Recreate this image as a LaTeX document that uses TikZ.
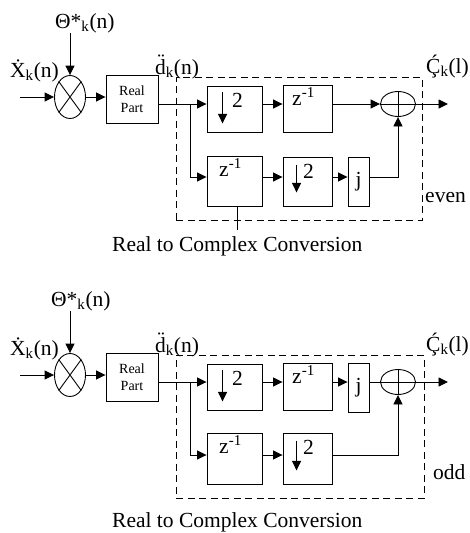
\documentclass[tikz,border=0pt]{standalone}
\usepackage{fontspec}
\setmainfont{Liberation Serif}
\usetikzlibrary{positioning,arrows.meta,shapes.geometric,calc}

\begin{document}
\begin{tikzpicture}[x=1pt,y=-1pt,
 ln/.style={line width=.9pt},
 a/.style={-{Triangle[length=9.5pt,width=9pt]},line width=.9pt},
 blk/.style={draw,line width=.9pt,inner sep=0pt},
 txt/.style={font=\fontsize{21.5}{25}\selectfont,inner sep=0pt},
 lbl/.style={txt,anchor=base west},
 sm/.style={font=\fontsize{14}{17}\selectfont,align=center},
 grp/.style={draw,dash pattern=on 7pt off 4.5pt,line width=.9pt,inner sep=0pt},
 mul/.style={ellipse,draw,line width=.9pt,inner sep=0pt,minimum width=31pt,minimum height=43pt},
 add/.style={ellipse,draw,line width=.9pt,inner sep=0pt,minimum width=35pt,minimum height=25pt},
 zl/.style={label={[txt,anchor=north,xshift=-4pt,yshift=-3pt]north:z\textsuperscript{-1}}}]
\useasboundingbox (0,0) rectangle (470,533);

% even branch
\node[lbl,anchor=south west] (th1) at (55,33) {Θ*\textsubscript{k}(n)};
\node[lbl] (x1) at (10,77) {Ẋ\textsubscript{k}(n)};
\node[mul] (m1) at (70,97) {};
\draw[ln] (m1.north west)--(m1.south east) (m1.north east)--(m1.south west);
\coordinate (in1) at (20,97);
\draw[a] (in1)--(m1);
\draw[a] (th1.south -| m1.north)--(m1.north);
\node[blk,sm,minimum width=52pt,minimum height=48pt] (re1) at (132,99) {Real\\Part};
\draw[a] (m1.east)--(m1.east -| re1.west);
\node[lbl] (d1) at (155,74) {d̈\textsubscript{k}(n)};
\node[grp,minimum width=246pt,minimum height=143pt] (cv1) at (299,148.5) {};
\coordinate (up1) at (0,104);
\coordinate (lo1) at (0,177);
\coordinate (br1) at (190,104);
\node[blk,minimum width=55pt,minimum height=46pt] (dA1) at (234.5,109) {};
\draw[a] ([xshift=16pt,yshift=-6pt]dA1.north west)--([xshift=16pt,yshift=9pt]dA1.south west);
\node[txt] at ([xshift=31pt,yshift=-15pt]dA1.north west) {2};
\node[blk,zl,minimum width=49pt,minimum height=47pt] (zA1) at (307.5,108.5) {};
\node[add] (s1) at (398,104) {};
\draw[ln] (s1.north)--(s1.south) (s1.west)--(s1.east);
\node[blk,zl,minimum width=55pt,minimum height=50pt] (zB1) at (234.5,181) {};
\node[blk,minimum width=49pt,minimum height=49pt] (dB1) at (307.5,181.5) {};
\draw[a] ([xshift=14pt,yshift=-8pt]dB1.north west)--([xshift=14pt,yshift=14pt]dB1.south west);
\node[txt] at ([xshift=26pt,yshift=-15pt]dB1.north west) {2};
\node[blk,txt,minimum width=21pt,minimum height=49pt] (j1) at (358.5,181.5) {j};
\draw[a] (re1.east |- up1)--(dA1.west |- up1);
\draw[a] (br1)|-(zB1.west |- lo1);
\draw[a] (dA1.east |- up1)--(zA1.west |- up1);
\draw[a] (zA1.east |- up1)--(s1.west);
\draw[a] (zB1.east |- lo1)--(dB1.west |- lo1);
\draw[a] (dB1.east |- lo1)--(j1.west |- lo1);
\draw[a] (j1.east |- lo1)-|(s1.south);
\coordinate (o1) at (448,104);
\draw[a] (s1.east)--(o1);
\node[lbl] (c1) at (426,73) {Ḉ\textsubscript{k}(l)};
\node[lbl] (ev) at (425,202) {even};
\draw[ln] ([xshift=3pt]zB1.south)--++(0,24);
\node[lbl] (rc1) at (112,251) {Real to Complex Conversion};

% odd branch
\begin{scope}[shift={(0,278)}]
\node[lbl,anchor=south west] (th2) at (51,33) {Θ*\textsubscript{k}(n)};
\node[lbl] (x2) at (10,77) {Ẋ\textsubscript{k}(n)};
\node[mul] (m2) at (70,97) {};
\draw[ln] (m2.north west)--(m2.south east) (m2.north east)--(m2.south west);
\coordinate (in2) at (20,97);
\draw[a] (in2)--(m2);
\draw[a] (th2.south -| m2.north)--(m2.north);
\node[blk,sm,minimum width=52pt,minimum height=48pt] (re2) at (132,99) {Real\\Part};
\draw[a] (m2.east)--(m2.east -| re2.west);
\node[lbl] (d2) at (155,74) {d̈\textsubscript{k}(n)};
\node[grp,minimum width=248pt,minimum height=143pt] (cv2) at (300,148.5) {};
\coordinate (up2) at (0,104);
\coordinate (lo2) at (0,177);
\coordinate (br2) at (190,104);
\node[blk,minimum width=55pt,minimum height=46pt] (dA2) at (234.5,109) {};
\draw[a] ([xshift=16pt,yshift=-6pt]dA2.north west)--([xshift=16pt,yshift=9pt]dA2.south west);
\node[txt] at ([xshift=31pt,yshift=-15pt]dA2.north west) {2};
\node[blk,zl,minimum width=49pt,minimum height=47pt] (zA2) at (307.5,108.5) {};
\node[blk,txt,minimum width=21pt,minimum height=49pt] (j2) at (358.5,109.5) {j};
\node[add] (s2) at (398,104) {};
\draw[ln] (s2.north)--(s2.south) (s2.west)--(s2.east);
\node[blk,zl,minimum width=55pt,minimum height=51pt] (zB2) at (234.5,180.5) {};
\node[blk,minimum width=49pt,minimum height=51pt] (dB2) at (307.5,180.5) {};
\draw[a] ([xshift=14pt,yshift=-8pt]dB2.north west)--([xshift=14pt,yshift=14pt]dB2.south west);
\node[txt] at ([xshift=26pt,yshift=-15pt]dB2.north west) {2};
\draw[a] (re2.east |- up2)--(dA2.west |- up2);
\draw[a] (br2)|-(zB2.west |- lo2);
\draw[a] (dA2.east |- up2)--(zA2.west |- up2);
\draw[a] (zA2.east |- up2)--(j2.west |- up2);
\draw[ln] (j2.east |- up2)--(s2.west);
\draw[a] (zB2.east |- lo2)--(dB2.west |- lo2);
\draw[a] (dB2.east |- lo2)-|(s2.south);
\coordinate (o2) at (448,104);
\draw[a] (s2.east)--(o2);
\node[lbl] (c2) at (426,73) {Ḉ\textsubscript{k}(l)};
\node[lbl] (od) at (433,201) {odd};
\node[lbl] (rc2) at (112,249) {Real to Complex Conversion};
\end{scope}
\end{tikzpicture}
\end{document}
